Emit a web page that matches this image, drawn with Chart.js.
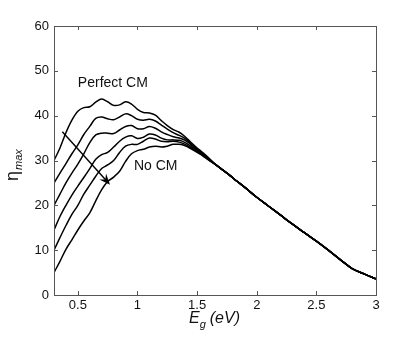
<!DOCTYPE html>
<html lang="en">
<head>
<meta charset="utf-8">
<title>eta max vs Eg</title>
<script src="https://cdn.jsdelivr.net/npm/chart.js@4"></script>
<style>
  html, body { margin: 0; padding: 0; background: #fff; }
  #wrap { width: 415px; height: 341px; }
</style>
</head>
<body>
<div id="wrap"><canvas id="graph"></canvas></div>
<script>
// x positions where the six curves differ
const headX = [0.3, 0.35, 0.4, 0.45, 0.5, 0.55, 0.6, 0.65, 0.7, 0.75, 0.8, 0.85, 0.9, 0.95,
               1.0, 1.05, 1.1, 1.15, 1.2, 1.25, 1.3, 1.35, 1.4, 1.45, 1.5, 1.55, 1.6];

// from "Perfect CM" (top) down to "No CM" (bottom)
const perfectCM = [30, 32.8, 36.2, 39.0, 41.0, 41.8, 42.0, 43.0, 43.7, 43.1, 42.3, 42.4, 43.1, 42.6,
                   41.4, 40.7, 40.6, 40.1, 38.9, 37.8, 36.9, 36.3, 35.3, 34.0, 32.8, 31.7, 30.5];
const curve2 = [25, 27.2, 29.3, 31.5, 33.5, 35.8, 37.6, 39.4, 39.7, 39.3, 39.1, 39.7, 40.4, 40.0,
                39.2, 39.0, 39.2, 38.8, 37.9, 37.0, 36.2, 35.6, 34.9, 33.7, 32.6, 31.5, 30.4];
const curve3 = [20, 22.5, 25.0, 27.2, 29.2, 31.5, 34.0, 35.7, 36.1, 36.1, 36.0, 36.8, 37.6, 37.8,
                37.1, 37.1, 37.6, 37.2, 36.4, 35.8, 35.3, 35.0, 34.5, 33.5, 32.4, 31.4, 30.3];
const curve4 = [14.5, 17.5, 20.0, 22.3, 24.3, 26.2, 28.2, 30.3, 31.3, 31.8, 33.0, 34.3, 35.2, 35.5,
                34.9, 35.2, 35.9, 35.7, 35.0, 34.6, 34.6, 34.5, 34.0, 33.1, 32.2, 31.2, 30.2];
const curve5 = [10, 12.8, 15.5, 18.0, 20.0, 22.5, 24.5, 26.5, 28.2, 29.0, 30.0, 31.8, 33.2, 33.6,
                33.6, 34.3, 35.0, 34.8, 34.3, 34.2, 34.3, 34.1, 33.6, 32.8, 32.0, 31.1, 30.1];
const noCM = [5, 7.5, 10.2, 12.3, 14.5, 16.5, 18.3, 21.0, 23.5, 25.3, 26.3, 27.6, 29.8, 31.5,
              32.2, 32.5, 33.0, 33.2, 33.0, 33.2, 33.6, 33.6, 33.3, 32.6, 31.8, 31.0, 30.0];

// shared part of all curves above ~1.6 eV
const tailX = [1.65, 1.7, 1.75, 1.8, 1.9, 2.0, 2.1, 2.2, 2.3, 2.4, 2.5, 2.6, 2.7, 2.8, 2.9, 3.0];
const tailY = [29.2, 28.2, 27.2, 26.1, 24.0, 21.8, 19.8, 17.8, 15.8, 13.9, 12.0, 10.0, 7.9, 5.9, 4.7, 3.6];

const xTicks = [0.5, 1, 1.5, 2, 2.5, 3];
const yTicks = [0, 10, 20, 30, 40, 50, 60];

const curves = [perfectCM, curve2, curve3, curve4, curve5, noCM];

function toPoints(head) {
    const pts = headX.map((x, i) => ({ x: x, y: head[i] }));
    return pts.concat(tailX.map((x, i) => ({ x: x, y: tailY[i] })));
}

const FONT = '"Liberation Sans", Arial, Helvetica, sans-serif';

// frame, inward ticks, axis titles, annotations
const decorations = {
    id: 'decorations',
    afterDatasetsDraw(chart) {
        const ctx = chart.ctx;
        const a = chart.chartArea;
        const xs = chart.scales.x, ys = chart.scales.y;
        ctx.save();

        // box
        ctx.strokeStyle = '#555';
        ctx.lineWidth = 1;
        ctx.strokeRect(Math.round(a.left) + 0.5, Math.round(a.top) + 0.5,
                       Math.round(a.right - a.left), Math.round(a.bottom - a.top));

        // inward ticks
        ctx.beginPath();
        for (const v of xTicks) {
            const px = Math.round(xs.getPixelForValue(v)) + 0.5;
            ctx.moveTo(px, a.bottom); ctx.lineTo(px, a.bottom - 4);
            ctx.moveTo(px, a.top); ctx.lineTo(px, a.top + 4);
        }
        for (const v of yTicks) {
            const py = Math.round(ys.getPixelForValue(v)) + 0.5;
            ctx.moveTo(a.left, py); ctx.lineTo(a.left + 4, py);
            ctx.moveTo(a.right, py); ctx.lineTo(a.right - 4, py);
        }
        ctx.stroke();

        // arrow from Perfect CM to No CM
        const x0 = xs.getPixelForValue(0.37), y0 = ys.getPixelForValue(36.4);
        const x1 = xs.getPixelForValue(0.77), y1 = ys.getPixelForValue(24.6);
        const ang = Math.atan2(y1 - y0, x1 - x0);
        ctx.strokeStyle = '#000';
        ctx.lineWidth = 1.4;
        ctx.beginPath();
        ctx.moveTo(x0, y0);
        ctx.lineTo(x1 - 4 * Math.cos(ang), y1 - 4 * Math.sin(ang));
        ctx.stroke();
        ctx.fillStyle = '#000';
        ctx.beginPath();
        ctx.moveTo(x1, y1);
        ctx.lineTo(x1 - 11 * Math.cos(ang) + 4.5 * Math.sin(ang), y1 - 11 * Math.sin(ang) - 4.5 * Math.cos(ang));
        ctx.lineTo(x1 - 7 * Math.cos(ang), y1 - 7 * Math.sin(ang));
        ctx.lineTo(x1 - 11 * Math.cos(ang) - 4.5 * Math.sin(ang), y1 - 11 * Math.sin(ang) + 4.5 * Math.cos(ang));
        ctx.closePath();
        ctx.fill();

        // annotations
        ctx.fillStyle = '#111';
        ctx.font = '14px ' + FONT;
        ctx.textBaseline = 'alphabetic';
        ctx.textAlign = 'left';
        ctx.fillText('Perfect CM', xs.getPixelForValue(0.5), ys.getPixelForValue(46.5));
        ctx.fillText('No CM', xs.getPixelForValue(0.97), ys.getPixelForValue(27.8));

        // x title: E_g (eV)
        ctx.font = 'italic 16px ' + FONT;
        const yb = 323;
        let cx = 189;
        ctx.fillText('E', cx, yb);
        cx += ctx.measureText('E').width;
        ctx.font = 'italic 11px ' + FONT;
        ctx.fillText('g', cx, yb + 5);
        cx += ctx.measureText('g').width + 4;
        ctx.font = 'italic 16px ' + FONT;
        ctx.fillText('(eV)', cx, yb);

        // y title: eta_max
        ctx.translate(18, 181);
        ctx.rotate(-Math.PI / 2);
        ctx.font = '18px ' + FONT;
        ctx.fillText('\u03B7', 0, 0);
        const w = ctx.measureText('\u03B7').width;
        ctx.font = 'italic 11px ' + FONT;
        ctx.fillText('max', w + 1, 4);
        ctx.restore();
    }
};

new Chart(document.getElementById('graph'), {
    type: 'line',
    data: {
        datasets: curves.map((c, i) => ({
            label: 'curve ' + (i + 1),
            data: toPoints(c),
            borderColor: '#000',
            borderWidth: 1.5,
            pointRadius: 0,
            fill: false,
            tension: 0.35
        }))
    },
    options: {
        responsive: true,
        maintainAspectRatio: false,
        animation: false,
        layout: { padding: { top: 26, right: 39, left: 0, bottom: 0 } },
        plugins: { legend: { display: false }, tooltip: { enabled: false } },
        scales: {
            x: {
                type: 'linear',
                min: 0.3,
                max: 3,
                grid: { display: false, drawTicks: false },
                border: { display: false },
                afterBuildTicks: (s) => { s.ticks = xTicks.map(v => ({ value: v })); },
                afterFit: (s) => { s.height = 46; },
                ticks: {
                    color: '#111',
                    padding: 3,
                    maxRotation: 0,
                    font: { family: FONT, size: 13 },
                    callback: (v) => String(v)
                }
            },
            y: {
                min: 0,
                max: 60,
                grid: { display: false, drawTicks: false },
                border: { display: false },
                afterBuildTicks: (s) => { s.ticks = yTicks.map(v => ({ value: v })); },
                afterFit: (s) => { s.width = 54; },
                ticks: {
                    color: '#111',
                    padding: 5,
                    font: { family: FONT, size: 13 }
                }
            }
        }
    },
    plugins: [decorations]
});
</script>
</body>
</html>
